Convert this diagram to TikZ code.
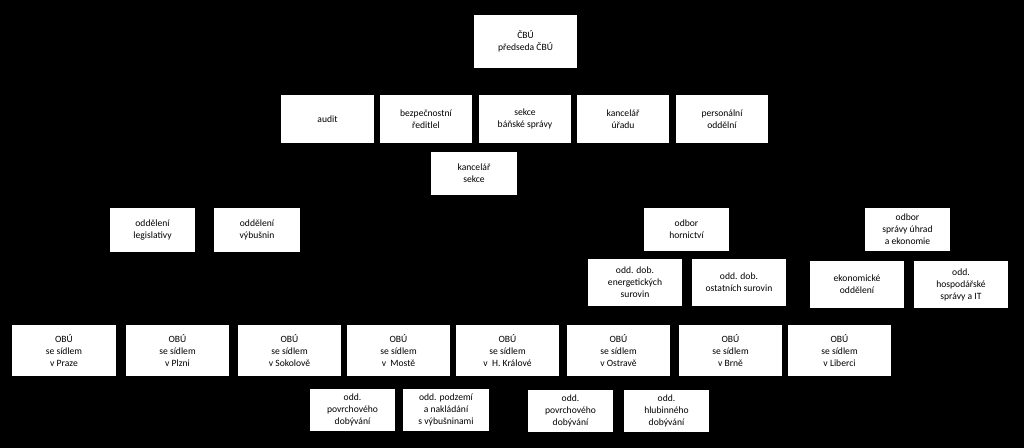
\documentclass[tikz,border=0pt]{standalone}
\usepackage{fontspec}
\setmainfont{Carlito}
\usetikzlibrary{backgrounds}
\begin{document}
\begin{tikzpicture}[x=0.75pt,y=-0.75pt,
  box/.style={draw=none,fill=white,align=center,font=\fontsize{7.2}{9}\selectfont,inner sep=1pt},
  wire/.style={draw=blue!35!black!85,line width=3pt},
  thin/.style={draw=blue!35!black!85,line width=1.2pt}]
\fill[black] (0,0) rectangle (1024,448);
\useasboundingbox (0,0) rectangle (1024,448);
\node[box,minimum width=77pt,minimum height=40pt] (cbu) at (525.5,41.5) {ČBÚ\\předseda ČBÚ};
\node[box,minimum width=69.5pt,minimum height=36pt] (audit) at (327.5,119) {audit};
\node[box,minimum width=69pt,minimum height=36pt] (bezp) at (426,119) {bezpečnostní\\ředitlel};
\node[box,minimum width=69pt,minimum height=36pt] (sekce) at (525,119) {sekce\\báňské správy};
\node[box,minimum width=69pt,minimum height=36pt] (kanc) at (623,119) {kancelář\\úřadu};
\node[box,minimum width=69pt,minimum height=36pt] (pers) at (722,119) {personální\\oddělní};
\node[box,minimum width=64.5pt,minimum height=32pt] (ksek) at (474,173.5) {kancelář\\sekce};
\node[box,minimum width=64pt,minimum height=32.5pt] (legis) at (152.5,230) {oddělení\\legislativy};
\node[box,minimum width=64.5pt,minimum height=32.5pt] (vybus) at (257,230) {oddělení\\výbušnin};
\node[box,minimum width=64pt,minimum height=32.5pt] (horn) at (686.5,229.5) {odbor\\hornictví};
\node[box,minimum width=64pt,minimum height=32.5pt] (sprav) at (907.5,229.5) {odbor\\správy úhrad\\a ekonomie};
\node[box,minimum width=70.5pt,minimum height=35pt] (energ) at (635,282.5) {odd. dob.\\energetických\\surovin};
\node[box,minimum width=70.5pt,minimum height=35pt] (ostat) at (739,282.5) {odd. dob.\\ostatních surovin};
\node[box,minimum width=70.5pt,minimum height=35pt] (ekon) at (857,284.5) {ekonomické\\oddělení};
\node[box,minimum width=70.5pt,minimum height=35pt] (hosp) at (961,284.5) {odd.\\hospodářské\\správy a IT};
\node[box,minimum width=78pt,minimum height=38pt] (praha) at (64,350.5) {OBÚ\\se sídlem\\v Praze};
\node[box,minimum width=77pt,minimum height=38pt] (plzen) at (177.5,350.5) {OBÚ\\se sídlem\\v Plzni};
\node[box,minimum width=77pt,minimum height=38pt] (sokol) at (289.5,350.5) {OBÚ\\se sídlem\\v Sokolově};
\node[box,minimum width=77pt,minimum height=38pt] (most) at (398.5,350.5) {OBÚ\\se sídlem\\v~ Mostě};
\node[box,minimum width=77pt,minimum height=38pt] (hk) at (507.5,350.5) {OBÚ\\se sídlem\\v~ H. Králové};
\node[box,minimum width=77pt,minimum height=38pt] (ostr) at (618.5,350.5) {OBÚ\\se sídlem\\v Ostravě};
\node[box,minimum width=77pt,minimum height=38pt] (brno) at (730.5,350.5) {OBÚ\\se sídlem\\v Brně};
\node[box,minimum width=77pt,minimum height=38pt] (lib) at (839.5,350.5) {OBÚ\\se sídlem\\v Liberci};
\node[box,minimum width=64pt,minimum height=31.5pt] (mpov) at (352.5,410) {odd.\\povrchového\\dobývání};
\node[box,minimum width=64.5pt,minimum height=31.5pt] (mpod) at (446,410) {odd. podzemí\\a nakládání\\s výbušninami};
\node[box,minimum width=64pt,minimum height=31.5pt] (opov) at (570.5,411) {odd.\\povrchového\\dobývání};
\node[box,minimum width=64pt,minimum height=31.5pt] (ohlub) at (666.5,411) {odd.\\hlubinného\\dobývání};
\coordinate (t1) at (327,92); \coordinate (t2) at (722,92);
\coordinate (l1) at (197,207); \coordinate (l2) at (865,207);
\coordinate (m) at (525,321);
\coordinate (o1) at (120,321); \coordinate (o2) at (839,321);
\coordinate (hd) at (687,285); \coordinate (sd) at (909,287);
\coordinate (md) at (399,420); \coordinate (od) at (618,412);
\begin{scope}[on background layer]
\fill[black] (0,0) rectangle (1024,448);
\draw[thin] (t1) -- (t2);
\draw[wire] (cbu.south) -- (sekce.north);
\draw[wire] (sekce.south) -- (m);
\draw[wire] (l1) -- (l2);
\draw[wire] (o1) -- (o2);
\draw[thin] (ksek.east) -- (sekce.south |- ksek.east);
\draw[wire] (horn.south) -- (hd);
\draw[wire] (sprav.south -| sd) -- (sd);
\draw[wire] (most.south) -- (md);
\draw[wire] (ostr.south) -- (od);
\end{scope}
\end{tikzpicture}
\end{document}
